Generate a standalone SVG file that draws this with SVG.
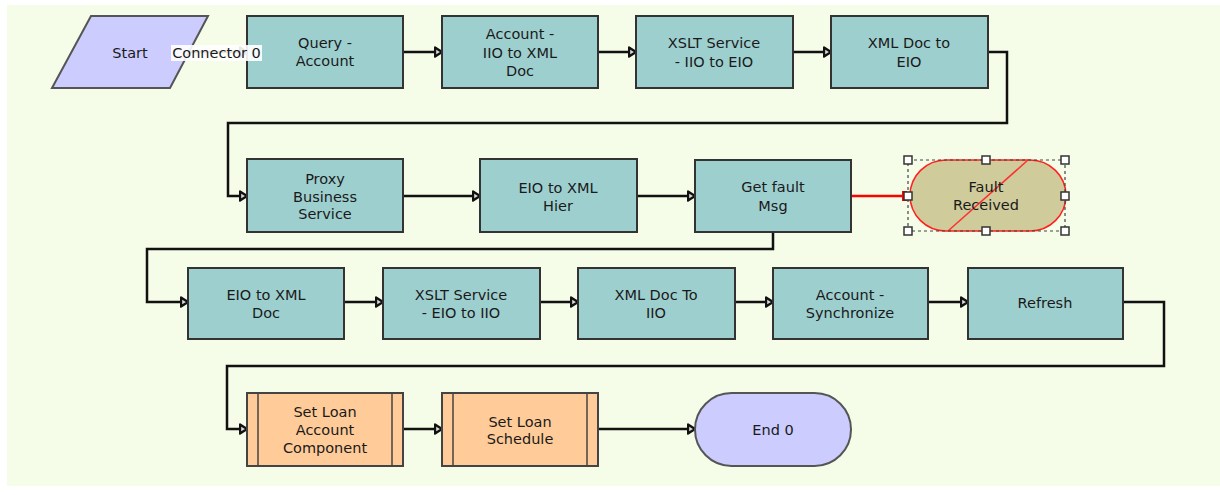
<svg xmlns="http://www.w3.org/2000/svg" width="1220" height="495" viewBox="0 0 1220 495">
<defs>
<marker id="arr" markerUnits="userSpaceOnUse" markerWidth="14" markerHeight="14" refX="8.5" refY="6" orient="auto">
<path d="M1.5,1.5 L8.5,6 L1.5,10.5 z" fill="#dddddd" stroke="#111" stroke-width="2.4" stroke-linejoin="round"/>
</marker>
</defs>
<style>
.bg{fill:#F5FCE7}
.task{fill:#9ECFCF;stroke:#333;stroke-width:2}
.sub{fill:#FFCC99;stroke:#444;stroke-width:2}
.subl{stroke:#444;stroke-width:1.5}
.term{fill:#CCCCFF;stroke:#555;stroke-width:2}
.conn{fill:none;stroke:#111;stroke-width:2.5;marker-end:url(#arr)}
.red{fill:none;stroke:#FF0000;stroke-width:2.5}
.t{font-family:"DejaVu Sans",Verdana,sans-serif;font-size:14.5px;fill:#1a1a1a;text-anchor:middle}
.h{fill:#fff;stroke:#333;stroke-width:1.5}
</style>
<rect x="0" y="0" width="1220" height="495" fill="#ffffff"/>
<rect class="bg" x="7" y="5" width="1213" height="481"/>

<g id="connectors">
<path class="conn" d="M189,52 H247"/>
<path class="conn" d="M403,52 H442"/>
<path class="conn" d="M598,52 H636"/>
<path class="conn" d="M793,52 H831"/>
<path class="conn" d="M988,52 H1007 V123 H228 V196 H247"/>
<path class="conn" d="M403,196 H480"/>
<path class="conn" d="M637,196 H695"/>
<path class="red" d="M851,196 H908"/>
<path class="conn" d="M773,232 V249 H147 V302 H188"/>
<path class="conn" d="M344,302 H383"/>
<path class="conn" d="M540,302 H578"/>
<path class="conn" d="M735,302 H773"/>
<path class="conn" d="M928,302 H968"/>
<path class="conn" d="M1123,302 H1164 V366 H227 V429 H247"/>
<path class="conn" d="M403,429 H442"/>
<path class="conn" d="M598,429 H695"/>
</g>

<g id="start">
<polygon class="term" points="91,16 208,16 170,88 52,88"/>
<text class="t" x="130" y="58">Start</text>
</g>
<g id="query-account">
<rect class="task" x="247" y="16" width="156" height="72"/>
<text class="t" x="325" y="48">Query -</text>
<text class="t" x="325" y="66">Account</text>
</g>
<g id="account-iio-xml">
<rect class="task" x="442" y="16" width="156" height="72"/>
<text class="t" x="520" y="39">Account -</text>
<text class="t" x="520" y="58">IIO to XML</text>
<text class="t" x="520" y="76">Doc</text>
</g>
<g id="xslt-iio-eio">
<rect class="task" x="636" y="16" width="157" height="72"/>
<text class="t" x="714" y="48">XSLT Service</text>
<text class="t" x="714" y="67">- IIO to EIO</text>
</g>
<g id="xml-doc-eio">
<rect class="task" x="831" y="16" width="157" height="72"/>
<text class="t" x="909" y="48">XML Doc to</text>
<text class="t" x="909" y="67">EIO</text>
</g>
<g id="proxy">
<rect class="task" x="247" y="159" width="156" height="73"/>
<text class="t" x="325" y="184">Proxy</text>
<text class="t" x="325" y="202">Business</text>
<text class="t" x="325" y="219">Service</text>
</g>
<g id="eio-xml-hier">
<rect class="task" x="480" y="159" width="157" height="73"/>
<text class="t" x="558" y="193">EIO to XML</text>
<text class="t" x="558" y="211">Hier</text>
</g>
<g id="get-fault">
<rect class="task" x="695" y="160" width="156" height="72"/>
<text class="t" x="773" y="192">Get fault</text>
<text class="t" x="773" y="211">Msg</text>
</g>
<g id="fault-received">
<rect x="910" y="160" width="156" height="71" rx="36" ry="36" fill="#CFCB9A" stroke="#FF2020" stroke-width="1.5"/>
<line x1="948" y1="231" x2="1028" y2="160" stroke="#FF3030" stroke-width="1.5"/>
<text class="t" x="986" y="192">Fault</text>
<text class="t" x="986" y="210">Received</text>
<rect x="908" y="160" width="157" height="71" fill="none" stroke="#444" stroke-width="1.2" stroke-dasharray="3,3"/>
<rect x="902" y="191" width="5" height="10" fill="#FF0000"/>
<rect class="h" x="904" y="156" width="8" height="8"/>
<rect class="h" x="982" y="156" width="8" height="8"/>
<rect class="h" x="1061" y="156" width="8" height="8"/>
<rect class="h" x="904" y="192" width="8" height="8"/>
<rect class="h" x="1061" y="192" width="8" height="8"/>
<rect class="h" x="904" y="227" width="8" height="8"/>
<rect class="h" x="982" y="227" width="8" height="8"/>
<rect class="h" x="1061" y="227" width="8" height="8"/>
</g>
<g id="eio-xml-doc">
<rect class="task" x="188" y="268" width="156" height="71"/>
<text class="t" x="266" y="300">EIO to XML</text>
<text class="t" x="266" y="318">Doc</text>
</g>
<g id="xslt-eio-iio">
<rect class="task" x="383" y="268" width="157" height="71"/>
<text class="t" x="461" y="300">XSLT Service</text>
<text class="t" x="461" y="318">- EIO to IIO</text>
</g>
<g id="xml-doc-iio">
<rect class="task" x="578" y="268" width="157" height="71"/>
<text class="t" x="656" y="300">XML Doc To</text>
<text class="t" x="656" y="318">IIO</text>
</g>
<g id="account-sync">
<rect class="task" x="773" y="268" width="155" height="71"/>
<text class="t" x="850" y="300">Account -</text>
<text class="t" x="850" y="318">Synchronize</text>
</g>
<g id="refresh">
<rect class="task" x="968" y="268" width="155" height="71"/>
<text class="t" x="1045" y="308">Refresh</text>
</g>
<g id="set-loan-account">
<rect class="sub" x="247" y="393" width="156" height="73"/>
<line class="subl" x1="258" y1="393" x2="258" y2="466"/>
<line class="subl" x1="392" y1="393" x2="392" y2="466"/>
<text class="t" x="325" y="417">Set Loan</text>
<text class="t" x="325" y="435">Account</text>
<text class="t" x="325" y="453">Component</text>
</g>
<g id="set-loan-schedule">
<rect class="sub" x="442" y="393" width="156" height="73"/>
<line class="subl" x1="453" y1="393" x2="453" y2="466"/>
<line class="subl" x1="587" y1="393" x2="587" y2="466"/>
<text class="t" x="520" y="427">Set Loan</text>
<text class="t" x="520" y="444">Schedule</text>
</g>
<g id="end0">
<rect class="term" x="695" y="393" width="156" height="73" rx="36.5" ry="36.5"/>
<text class="t" x="773" y="435">End 0</text>
</g>
<g id="connector-label">
<rect x="171" y="45" width="91" height="16" fill="#ffffff" opacity="0.9"/>
<text class="t" x="216.5" y="58">Connector 0</text>
</g>
</svg>
